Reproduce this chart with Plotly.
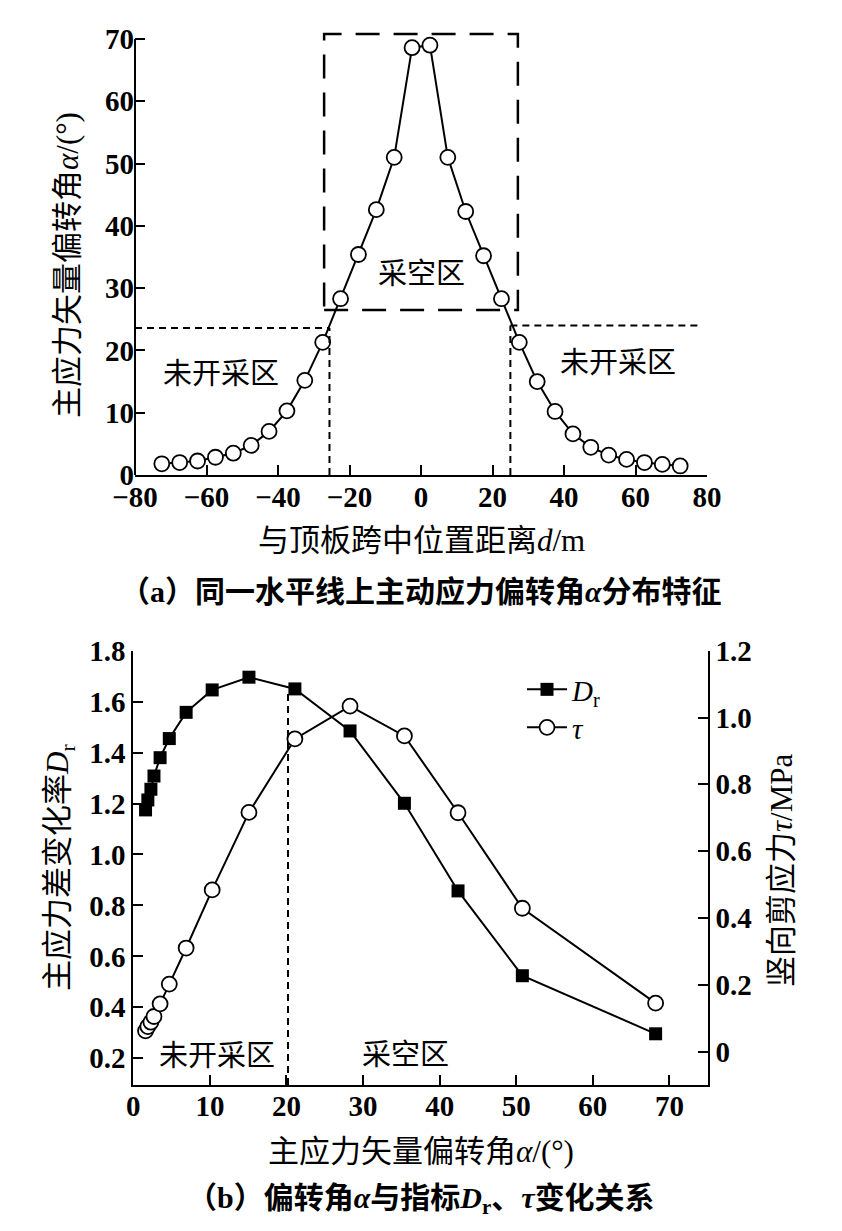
import plotly.graph_objects as go

W, H = 842, 1231
OFF = 8  # page body margin offset (px) that the browser adds around the figure

# ---------------- data (a) ----------------
d_pos = [-72.5, -67.5, -62.5, -57.5, -52.5, -47.5, -42.5, -37.5, -32.5, -27.5,
         -22.5, -17.5, -12.5, -7.5, -2.5, 2.5, 7.5, 12.5, 17.5, 22.5,
         27.5, 32.5, 37.5, 42.5, 47.5, 52.5, 57.5, 62.5, 67.5, 72.5]
alpha_a = [1.8, 2.0, 2.25, 2.85, 3.5, 4.75, 7.0, 10.3, 15.2, 21.3,
           28.3, 35.4, 42.6, 51.0, 68.6, 69.0, 51.0, 42.3, 35.2, 28.3,
           21.3, 15.0, 10.2, 6.6, 4.45, 3.2, 2.5, 2.0, 1.7, 1.45]
x_ticks_a = [-80, -60, -40, -20, 0, 20, 40, 60, 80]
y_ticks_a = [0, 10, 20, 30, 40, 50, 60, 70]

# ---------------- data (b) ----------------
alpha_b = [1.6, 1.9, 2.3, 2.7, 3.5, 4.7, 6.9, 10.3, 15.1, 21.1, 28.3, 35.4, 42.4, 50.8, 68.2]
Dr = [1.175, 1.214, 1.256, 1.308, 1.380, 1.455, 1.558, 1.646, 1.696, 1.650,
      1.485, 1.201, 0.857, 0.524, 0.296]
tau = [0.062, 0.075, 0.088, 0.105, 0.143, 0.202, 0.310, 0.484, 0.716, 0.936,
       1.034, 0.945, 0.715, 0.429, 0.145]
x_ticks_b = [0, 10, 20, 30, 40, 50, 60, 70]
y_ticks_b = [0.2, 0.4, 0.6, 0.8, 1.0, 1.2, 1.4, 1.6, 1.8]
y_ticks_b_text = ["0.2", "0.4", "0.6", "0.8", "1.0", "1.2", "1.4", "1.6", "1.8"]
y2_ticks_b = [0, 0.2, 0.4, 0.6, 0.8, 1.0, 1.2]
y2_ticks_b_text = ["0", "0.2", "0.4", "0.6", "0.8", "1.0", "1.2"]

FONT = "Liberation Serif, Noto Sans CJK SC, serif"
CJK = "Noto Sans CJK SC, Liberation Serif"
TICKFONT = dict(family="Liberation Serif", size=29, color="black", weight=700)


def px_x(p):
    return (p - OFF) / W


def px_y(p):
    return 1 - (p - OFF) / H


fig = go.Figure()

# (a) curve
fig.add_trace(go.Scatter(
    x=d_pos, y=alpha_a, mode="lines+markers", xaxis="x", yaxis="y",
    line=dict(color="black", width=2),
    marker=dict(symbol="circle", size=15, color="white", line=dict(color="black", width=1.8)),
    showlegend=False, cliponaxis=False))

# (b) curves
fig.add_trace(go.Scatter(
    x=alpha_b, y=Dr, mode="lines+markers", xaxis="x2", yaxis="y2",
    name="<i>D</i><sub>r</sub>", legend="legend",
    line=dict(color="black", width=2),
    marker=dict(symbol="square", size=13, color="black"),
    cliponaxis=False))
fig.add_trace(go.Scatter(
    x=alpha_b, y=tau, mode="lines+markers", xaxis="x2", yaxis="y3",
    name="<i>τ</i>", legend="legend2",
    line=dict(color="black", width=2),
    marker=dict(symbol="circle", size=15, color="white", line=dict(color="black", width=1.8)),
    cliponaxis=False))

axis_common = dict(showgrid=False, zeroline=False, ticks="inside", ticklen=10,
                   tickwidth=2, tickcolor="black", linecolor="black", linewidth=2,
                   tickfont=TICKFONT, automargin=False)

shapes = []
# (a) left axis line from 0 to 70 (range extended above for the dashed box)
shapes.append(dict(type="line", xref="paper", yref="paper",
                   x0=px_x(135), x1=px_x(135), y0=px_y(475), y1=px_y(39),
                   line=dict(color="black", width=2)))
# (a) dashed box (goaf)
shapes.append(dict(type="rect", xref="x", yref="y", x0=-27.1, x1=27.1, y0=26.5, y1=70.8,
                   line=dict(color="black", width=2.5, dash="24px,14px")))
# (a) dotted boundary lines
dot = dict(color="black", width=2, dash="7px,5px")
shapes.append(dict(type="line", xref="x", yref="y", x0=-80, x1=-25.6, y0=23.6, y1=23.6, line=dot))
shapes.append(dict(type="line", xref="x", yref="y", x0=-25.6, x1=-25.6, y0=0, y1=23.6, line=dot))
shapes.append(dict(type="line", xref="x", yref="y", x0=25.0, x1=77.5, y0=24.0, y1=24.0, line=dot))
shapes.append(dict(type="line", xref="x", yref="y", x0=25.0, x1=25.0, y0=0, y1=24.0, line=dot))
# (b) dotted vertical
shapes.append(dict(type="line", xref="x2", yref="y2", x0=20.2, x1=20.2, y0=0.095, y1=1.633, line=dot))

annotations = []
txt = dict(family=CJK, size=29, color="black")
annotations += [
    dict(x=0, y=32.7, xref="x", yref="y", text="采空区", showarrow=False, font=txt),
    dict(x=-56, y=16.7, xref="x", yref="y", text="未开采区", showarrow=False, font=txt),
    dict(x=55.1, y=18.5, xref="x", yref="y", text="未开采区", showarrow=False, font=txt),
    dict(x=10.9, y=0.22, xref="x2", yref="y2", text="未开采区", showarrow=False, font=txt),
    dict(x=35.5, y=0.226, xref="x2", yref="y2", text="采空区", showarrow=False, font=txt),
]
title_font = dict(family=FONT, size=31, color="black")
cap_font = dict(family=FONT, size=30, color="black")
paper_texts = [
    (67, 265, -90, "主应力矢量偏转角<i>α</i>/(°)", title_font),
    (421, 540, 0, "与顶板跨中位置距离<i>d</i>/m", title_font),
    (421, 591, 0, "<b>（a）同一水平线上主动应力偏转角<i>α</i>分布特征</b>", cap_font),
    (60, 868, -90, "主应力差变化率<i>D</i><sub>r</sub>", title_font),
    (781, 870, -90, "竖向剪应力<i>τ</i>/MPa", title_font),
    (421, 1151, 0, "主应力矢量偏转角<i>α</i>/(°)", title_font),
    (421, 1200, 0, "<b>（b）偏转角<i>α</i>与指标<i>D</i><sub>r</sub>、<i>τ</i>变化关系</b>", cap_font),
]
for px, py, ang, t, f in paper_texts:
    annotations.append(dict(x=px_x(px), y=px_y(py), xref="paper", yref="paper",
                            textangle=ang, xanchor="center", yanchor="middle",
                            text=t, showarrow=False, font=f))

leg_common = dict(xanchor="left", yanchor="top", bgcolor="rgba(0,0,0,0)",
                  font=dict(family="Liberation Serif", size=29, color="black"),
                  tracegroupgap=0, itemwidth=40)

fig.update_layout(
    width=W, height=H,
    margin=dict(l=0, r=0, t=0, b=0, pad=0, autoexpand=False),
    paper_bgcolor="white", plot_bgcolor="white",
    font=dict(family=FONT, size=29, color="black"),
    xaxis=dict(domain=[px_x(135), px_x(707)], range=[-80, 80], tickvals=x_ticks_a,
               anchor="y", showline=True, ticklabelstandoff=-5, **axis_common),
    yaxis=dict(domain=[px_y(475), px_y(29)], range=[0, 71.6], tickvals=y_ticks_a,
               anchor="x", showline=False, ticklabelstandoff=0, **axis_common),
    xaxis2=dict(domain=[px_x(133.3), px_x(707.7)], range=[0, 75], tickvals=x_ticks_b,
                anchor="y2", showline=True, ticklabelstandoff=-6, **axis_common),
    yaxis2=dict(domain=[px_y(1085), px_y(650.7)], range=[0.095, 1.8], tickvals=y_ticks_b,
                ticktext=y_ticks_b_text, anchor="x2", showline=True, ticklabelstandoff=0,
                **axis_common),
    yaxis3=dict(range=[-0.1, 1.2], tickvals=y2_ticks_b, ticktext=y2_ticks_b_text,
                overlaying="y2", side="right", anchor="x2", showline=True,
                ticklabelstandoff=0, **axis_common),
    legend=dict(x=px_x(522), y=px_y(664), **leg_common),
    legend2=dict(x=px_x(522), y=px_y(702), **leg_common),
    shapes=shapes,
    annotations=annotations,
)

fig.write_html("out.html")
